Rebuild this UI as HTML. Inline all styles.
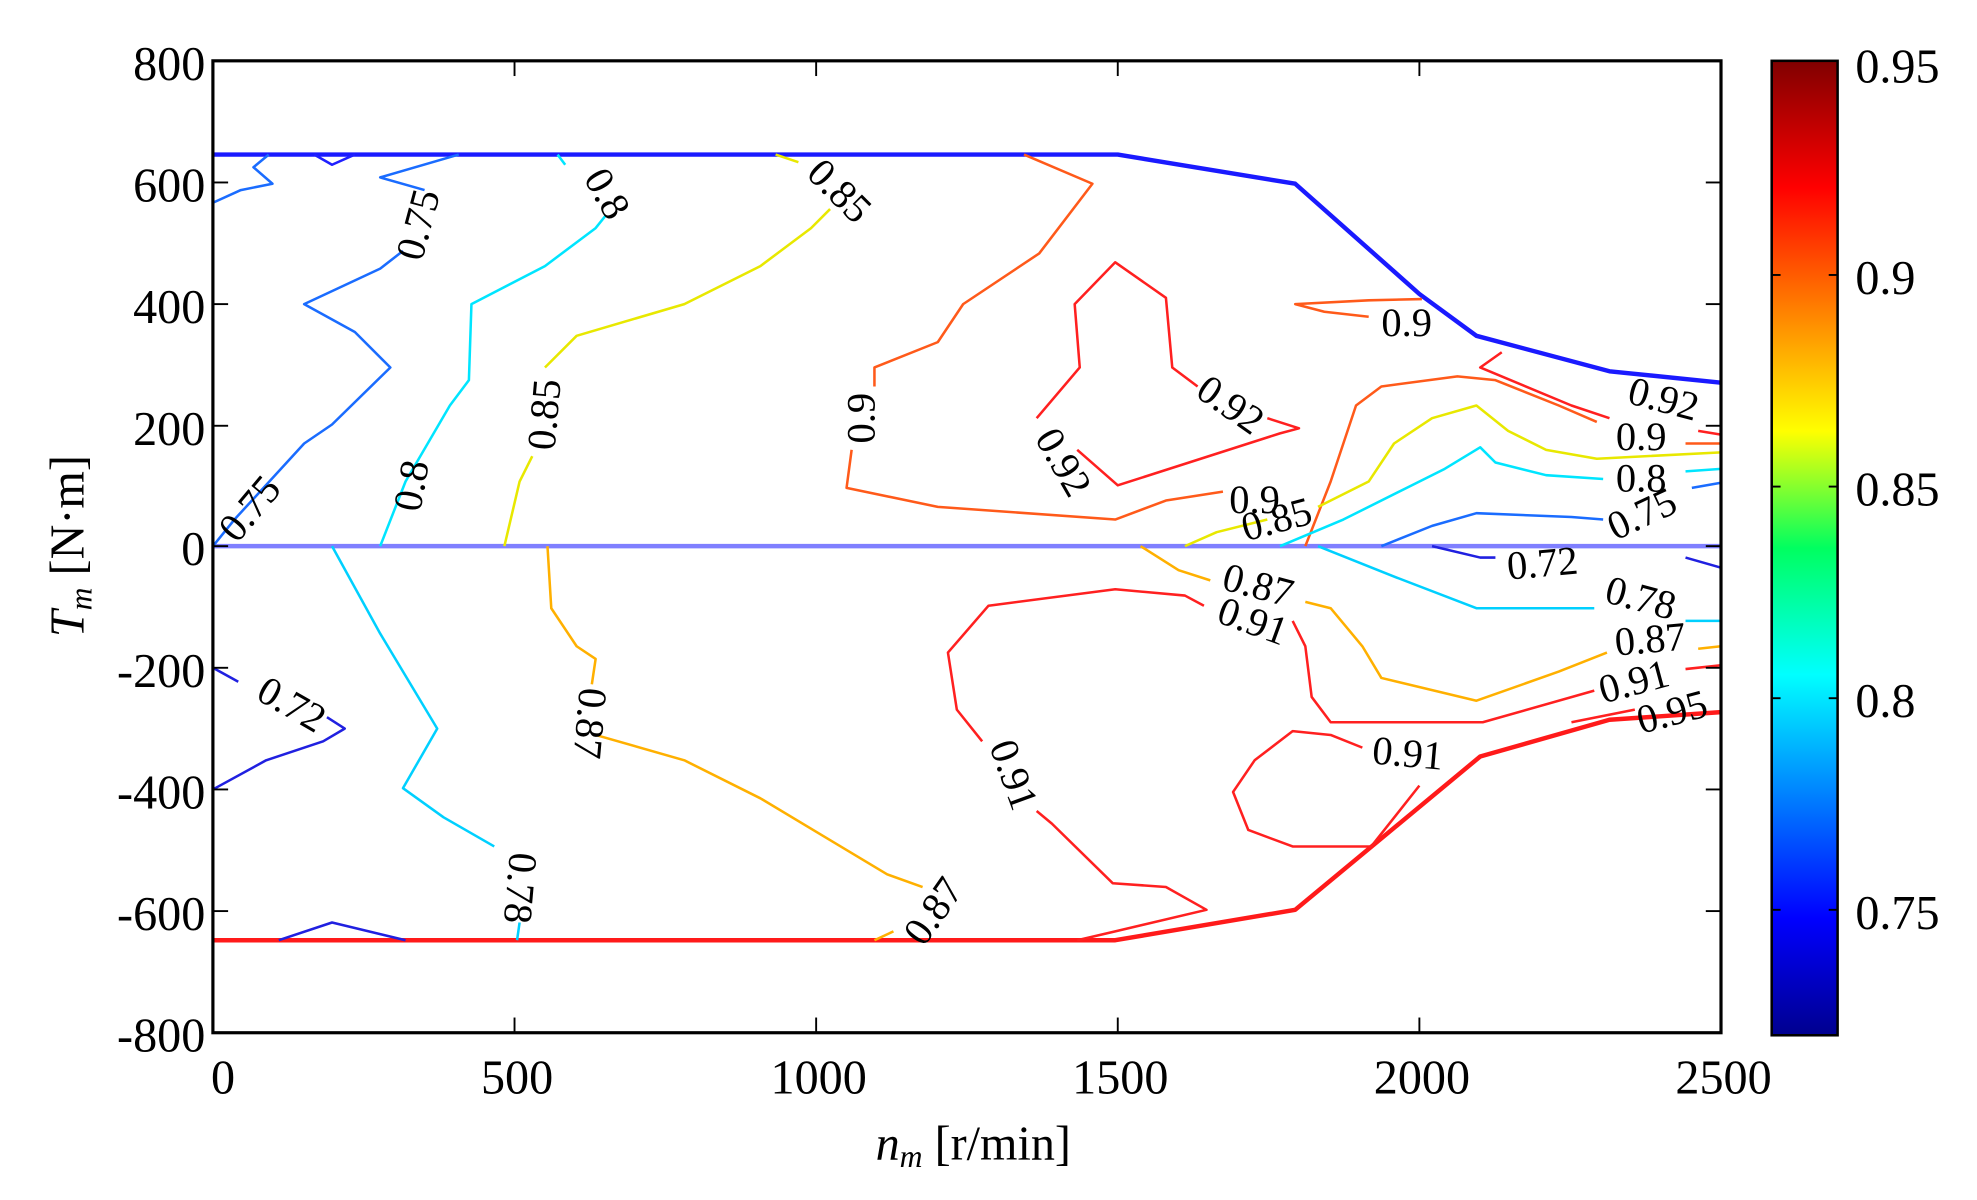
<!DOCTYPE html>
<html><head><meta charset="utf-8"><style>html,body{margin:0;padding:0;background:#fff}svg{display:block}</style></head>
<body>
<svg width="1977" height="1200" viewBox="0 0 1560 947" preserveAspectRatio="none" xmlns="http://www.w3.org/2000/svg" font-family="Liberation Serif, serif">
<defs>
<linearGradient id="jet" x1="0" y1="1" x2="0" y2="0">
<stop offset="0" stop-color="#00008f"/><stop offset="0.12" stop-color="#0000ff"/><stop offset="0.37" stop-color="#00ffff"/><stop offset="0.5" stop-color="#00ff60"/><stop offset="0.62" stop-color="#ffff00"/><stop offset="0.87" stop-color="#ff0000"/><stop offset="1" stop-color="#800000"/>
</linearGradient>
</defs>
<g fill="none" stroke-linejoin="round">
<polyline stroke="#1a1aff" stroke-width="3.5" points="168,122 882,122 1022,145 1120,232 1165,265 1270,293 1358,302"/>
<line x1="168" y1="431" x2="1358" y2="431" stroke="#7f7fff" stroke-width="3.5"/>
<polyline stroke="#ff1a1a" stroke-width="3.5" points="168,742 880,742 1022,718 1168,597 1270,568 1358,562"/>
<polyline stroke="#1a6cff" stroke-width="2" points="168,160 190,150 215,145 200,132 212,122"/>
<polyline stroke="#2020ff" stroke-width="2" points="248,122 262,130 280,122"/>
<polyline stroke="#1a6cff" stroke-width="2" points="168,431 185,410 240,350 262,335 308,290 280,262 240,240 300,212 318,198"/>
<polyline stroke="#1a6cff" stroke-width="2" points="335,150 300,140 362,122"/>
<polyline stroke="#00e5ff" stroke-width="2" points="300,431 320,380 355,320 370,300 372,240 430,210 470,180 478,170"/>
<polyline stroke="#00e5ff" stroke-width="2" points="446,130 440,122"/>
<polyline stroke="#e8e800" stroke-width="2" points="398,431 410,380 420,360"/>
<polyline stroke="#e8e800" stroke-width="2" points="430,290 455,265 540,240 600,210 640,180 655,165"/>
<polyline stroke="#e8e800" stroke-width="2" points="630,128 612,122"/>
<polyline stroke="#ff5a1a" stroke-width="2" points="808,122 862,145 820,200 760,240 740,270 690,290 690,305"/>
<polyline stroke="#ff5a1a" stroke-width="2" points="672,355 668,385 740,400 880,410 920,395 965,388"/>
<polyline stroke="#ff2020" stroke-width="2" points="818,330 852,290 848,240 880,207 920,235 925,290 945,305"/>
<polyline stroke="#ff2020" stroke-width="2" points="1000,330 1025,338 1010,342 882,383 850,355"/>
<polyline stroke="#ff5a1a" stroke-width="2" points="1122,236 1080,237 1022,240 1045,246 1080,250"/>
<polyline stroke="#ff2020" stroke-width="2" points="1185,278 1168,290 1240,320 1270,330"/>
<polyline stroke="#ff2020" stroke-width="2" points="1340,340 1358,343"/>
<polyline stroke="#ff5a1a" stroke-width="2" points="1030,431 1050,380 1070,320 1090,305 1150,297 1180,300 1230,320 1260,333"/>
<polyline stroke="#ff5a1a" stroke-width="2" points="1330,350 1358,350"/>
<polyline stroke="#e8e800" stroke-width="2" points="935,431 960,420 1000,410"/>
<polyline stroke="#e8e800" stroke-width="2" points="1040,400 1080,380 1100,350 1130,330 1165,320 1190,340 1220,355 1260,362 1358,357"/>
<polyline stroke="#00e5ff" stroke-width="2" points="1010,431 1060,410 1110,385 1140,370 1168,353 1180,365 1220,375 1265,378"/>
<polyline stroke="#00e5ff" stroke-width="2" points="1330,372 1358,370"/>
<polyline stroke="#1a6cff" stroke-width="2" points="1090,431 1130,415 1165,405 1240,408 1265,410"/>
<polyline stroke="#1a6cff" stroke-width="2" points="1335,385 1358,381"/>
<polyline stroke="#2020e0" stroke-width="2" points="1130,431 1168,440 1180,440"/>
<polyline stroke="#2020e0" stroke-width="2" points="1330,440 1358,448"/>
<polyline stroke="#00d0ff" stroke-width="2" points="1040,431 1100,455 1165,480 1258,480"/>
<polyline stroke="#00d0ff" stroke-width="2" points="1330,490 1358,490"/>
<polyline stroke="#ffb000" stroke-width="2" points="900,431 930,450 955,458"/>
<polyline stroke="#ffb000" stroke-width="2" points="1030,475 1050,480 1075,510 1090,535 1165,553 1230,530 1268,515"/>
<polyline stroke="#ffb000" stroke-width="2" points="1340,512 1358,510"/>
<polyline stroke="#ff2020" stroke-width="2" points="1020,490 1030,510 1035,550 1050,570 1170,570 1258,545"/>
<polyline stroke="#ff2020" stroke-width="2" points="1330,528 1358,525"/>
<polyline stroke="#ff2020" stroke-width="2" points="950,478 935,470 880,465 780,478 748,515 755,560 775,585"/>
<polyline stroke="#ff2020" stroke-width="2" points="818,640 830,650 878,697 920,700 952,718 880,735 850,742"/>
<polyline stroke="#ff2020" stroke-width="2" points="1075,590 1050,580 1020,577 990,600 973,625 985,655 1020,668 1082,668 1120,620"/>
<polyline stroke="#ff2020" stroke-width="2" points="1240,570 1290,560"/>
<polyline stroke="#ffb000" stroke-width="2" points="432,431 435,480 455,510 470,520 467,540"/>
<polyline stroke="#ffb000" stroke-width="2" points="470,580 540,600 600,630 650,660 700,690 728,700"/>
<polyline stroke="#ffb000" stroke-width="2" points="705,735 690,742"/>
<polyline stroke="#00d0ff" stroke-width="2" points="262,431 300,500 345,575 318,622 350,645 390,668"/>
<polyline stroke="#00d0ff" stroke-width="2" points="410,728 408,742"/>
<polyline stroke="#2020e0" stroke-width="2" points="168,527 188,538"/>
<polyline stroke="#2020e0" stroke-width="2" points="258,566 272,575 255,585 210,600 168,623"/>
<polyline stroke="#2020e0" stroke-width="2" points="220,742 262,728 320,742"/>
</g>
<rect x="168" y="48" width="1190" height="767" fill="none" stroke="#000" stroke-width="2.5"/>
<g stroke="#000" stroke-width="1.5">
<line x1="406" y1="815" x2="406" y2="803"/><line x1="644" y1="815" x2="644" y2="803"/><line x1="882" y1="815" x2="882" y2="803"/><line x1="1120" y1="815" x2="1120" y2="803"/>
<line x1="406" y1="48" x2="406" y2="60"/><line x1="644" y1="48" x2="644" y2="60"/><line x1="882" y1="48" x2="882" y2="60"/><line x1="1120" y1="48" x2="1120" y2="60"/>
<line x1="168" y1="144" x2="180" y2="144"/><line x1="168" y1="240" x2="180" y2="240"/><line x1="168" y1="336" x2="180" y2="336"/><line x1="168" y1="431" x2="180" y2="431"/><line x1="168" y1="527" x2="180" y2="527"/><line x1="168" y1="623" x2="180" y2="623"/><line x1="168" y1="719" x2="180" y2="719"/>
<line x1="1358" y1="144" x2="1346" y2="144"/><line x1="1358" y1="240" x2="1346" y2="240"/><line x1="1358" y1="336" x2="1346" y2="336"/><line x1="1358" y1="431" x2="1346" y2="431"/><line x1="1358" y1="527" x2="1346" y2="527"/><line x1="1358" y1="623" x2="1346" y2="623"/><line x1="1358" y1="719" x2="1346" y2="719"/>
</g>
<g font-size="38" fill="#000" text-anchor="end">
<text x="162" y="63">800</text><text x="162" y="159">600</text><text x="162" y="255">400</text><text x="162" y="351">200</text><text x="162" y="446">0</text><text x="162" y="542">-200</text><text x="162" y="638">-400</text><text x="162" y="734">-600</text><text x="162" y="830">-800</text>
</g>
<g font-size="38" fill="#000" text-anchor="middle">
<text x="176" y="863">0</text><text x="408" y="863">500</text><text x="646" y="863">1000</text><text x="884" y="863">1500</text><text x="1122" y="863">2000</text><text x="1360" y="863">2500</text>
</g>
<text x="768" y="915" font-size="38" text-anchor="middle"><tspan font-style="italic">n</tspan><tspan font-style="italic" font-size="25" dy="6">m</tspan><tspan dy="-6"> [r/min]</tspan></text>
<text transform="translate(66,431) rotate(-90)" font-size="38" text-anchor="middle"><tspan font-style="italic">T</tspan><tspan font-style="italic" font-size="25" dy="6">m</tspan><tspan dy="-6"> [N·m]</tspan></text>
<rect x="1398" y="48" width="52" height="769" fill="url(#jet)" stroke="#000" stroke-width="2"/>
<g stroke="#000" stroke-width="1.5">
<line x1="1398" y1="217" x2="1405" y2="217"/><line x1="1450" y1="217" x2="1443" y2="217"/>
<line x1="1398" y1="384" x2="1405" y2="384"/><line x1="1450" y1="384" x2="1443" y2="384"/>
<line x1="1398" y1="551" x2="1405" y2="551"/><line x1="1450" y1="551" x2="1443" y2="551"/>
<line x1="1398" y1="718" x2="1405" y2="718"/><line x1="1450" y1="718" x2="1443" y2="718"/>
</g>
<g font-size="38" fill="#000">
<text x="1464" y="65">0.95</text><text x="1464" y="232">0.9</text><text x="1464" y="399">0.85</text><text x="1464" y="566">0.8</text><text x="1464" y="733">0.75</text>
</g>
<g font-size="32" fill="#000" text-anchor="middle">
<text transform="translate(205,408) rotate(-50)">0.75</text>
<text transform="translate(340,180) rotate(-75)">0.75</text>
<text transform="translate(335,385) rotate(-80)">0.8</text>
<text transform="translate(470,158) rotate(60)">0.8</text>
<text transform="translate(440,328) rotate(-85)">0.85</text>
<text transform="translate(655,158) rotate(45)">0.85</text>
<text transform="translate(690,330) rotate(-90)">0.9</text>
<text transform="translate(965,328) rotate(35)">0.92</text>
<text transform="translate(830,370) rotate(60)">0.92</text>
<text x="1110" y="265">0.9</text>
<text x="990" y="405">0.9</text>
<text transform="translate(1010,420) rotate(-15)">0.85</text>
<text transform="translate(1310,325) rotate(15)">0.92</text>
<text x="1295" y="355">0.9</text>
<text x="1295" y="388">0.8</text>
<text transform="translate(1300,415) rotate(-25)">0.75</text>
<text transform="translate(1218,455) rotate(-5)">0.72</text>
<text transform="translate(1292,482) rotate(15)">0.78</text>
<text transform="translate(1303,515) rotate(-5)">0.87</text>
<text transform="translate(1292,548) rotate(-15)">0.91</text>
<text transform="translate(1322,572) rotate(-15)">0.95</text>
<text transform="translate(990,472) rotate(15)">0.87</text>
<text transform="translate(985,500) rotate(20)">0.91</text>
<text transform="translate(1110,605) rotate(5)">0.91</text>
<text transform="translate(790,615) rotate(70)">0.91</text>
<text transform="translate(455,570) rotate(95)">0.87</text>
<text transform="translate(745,725) rotate(-55)">0.87</text>
<text transform="translate(400,700) rotate(95)">0.78</text>
<text transform="translate(225,565) rotate(30)">0.72</text>
</g>
</svg>
</body></html>
